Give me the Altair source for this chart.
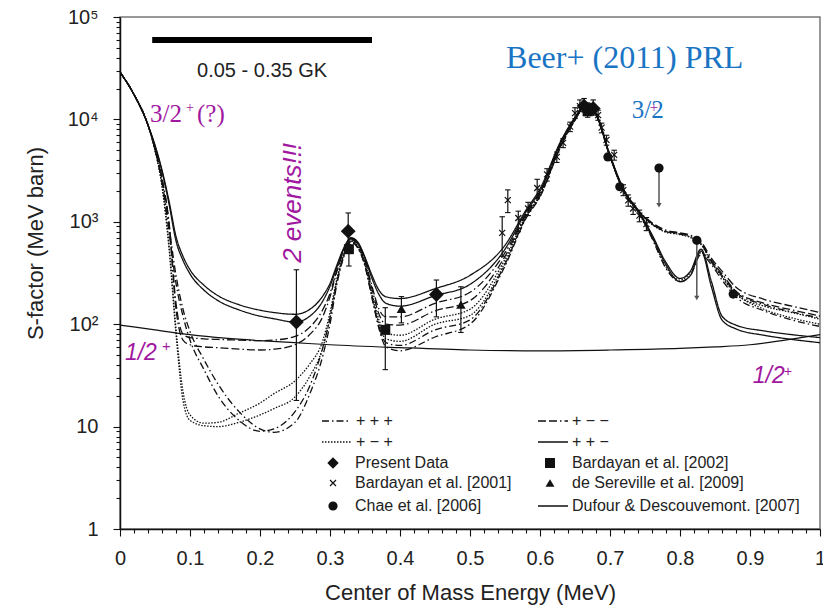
import altair as alt
import pandas as pd

# ---------------- data ----------------
E_GRID = [0, 0.02, 0.04, 0.05, 0.06, 0.07, 0.08, 0.09, 0.10, 0.12, 0.14, 0.17, 0.20, 0.22,
          0.25, 0.27, 0.29, 0.30, 0.31, 0.32, 0.33, 0.34, 0.35, 0.36, 0.37, 0.38, 0.40, 0.45,
          0.50, 0.55, 0.58, 0.60, 0.63, 0.65, 0.665, 0.68, 0.70, 0.72, 0.74, 0.76, 0.78, 0.80,
          0.815, 0.83, 0.845, 0.86, 0.88, 0.92, 0.96, 1.00]

# "+ + -" (solid)
FIT_PPM_1 = [29000, 17500, 8800, 5600, 3200, 1600, 720, 460, 340, 240, 190, 155, 137, 130,
             125, 138, 190, 250, 380, 560, 700, 630, 450, 300, 215, 185, 178, 222,
             300, 590, 1300, 2100, 6200, 10500, 14000, 11500, 4500, 2050, 1300, 750, 400, 280,
             330, 540, 260, 120, 98, 86, 79, 74]
FIT_PPM_2 = [29000, 17500, 8800, 5500, 3100, 1500, 650, 420, 310, 215, 170, 138, 120, 113,
             105, 118, 170, 235, 365, 550, 690, 620, 440, 280, 195, 160, 150, 190,
             245, 540, 1250, 2000, 6000, 10300, 13800, 11300, 4400, 2000, 1280, 720, 380, 260,
             300, 520, 230, 110, 90, 78, 71, 66]
# "+ - -" (dash-dash-dot)
FIT_PMM_1 = [29000, 17500, 8800, 5200, 2700, 1000, 160, 80, 74, 72, 71, 70, 69, 70,
             76, 92, 140, 200, 340, 530, 680, 600, 420, 235, 140, 118, 118, 160,
             205, 500, 1200, 1950, 5900, 10200, 13800, 11300, 4400, 2000, 1300, 980, 830, 780,
             740, 640, 440, 330, 230, 175, 150, 130]
FIT_PMM_2 = [29000, 17500, 8800, 5100, 2600, 950, 140, 70, 63, 60, 59, 57, 56, 57,
             63, 78, 120, 185, 330, 520, 670, 590, 410, 220, 125, 100, 98, 135,
             170, 460, 1170, 1900, 5800, 10000, 13700, 11200, 4400, 2000, 1300, 960, 810, 770,
             720, 620, 420, 310, 210, 160, 138, 120]
# "+ - +" (dotted)
FIT_PMP_1 = [29000, 17500, 8800, 5000, 2300, 600, 90, 22, 13, 10.8, 11, 13.5, 17, 21,
             28, 40, 70, 130, 280, 490, 650, 570, 390, 200, 110, 82, 78, 112,
             140, 430, 1150, 1850, 5700, 10000, 13600, 11200, 4300, 1950, 1250, 700, 360, 270,
             320, 500, 400, 290, 200, 140, 115, 100]
FIT_PMP_2 = [29000, 17500, 8800, 5000, 2200, 550, 80, 18, 11.5, 10.2, 10, 11, 13, 15,
             19.5, 30, 60, 115, 270, 480, 640, 560, 380, 190, 100, 72, 68, 100,
             122, 400, 1120, 1800, 5600, 9900, 13500, 11100, 4300, 1950, 1280, 940, 790, 750,
             700, 600, 400, 290, 195, 150, 130, 112]
# "+ + +" (dash-dot)
FIT_PPP_1 = [29000, 17500, 8800, 5100, 2400, 800, 250, 120, 70, 36, 20, 11.5, 9, 9.5,
             14, 24, 60, 115, 260, 470, 640, 560, 370, 180, 90, 60, 55, 75,
             100, 370, 1080, 1750, 5500, 9800, 13500, 11000, 4300, 1950, 1250, 690, 350, 260,
             300, 480, 380, 270, 185, 135, 110, 95]
FIT_PPP_2 = [29000, 17500, 8800, 5150, 2500, 900, 300, 140, 85, 45, 26, 14, 9.5, 8.8,
             11, 20, 50, 100, 250, 460, 630, 550, 370, 185, 95, 66, 62, 88,
             110, 385, 1100, 1780, 5600, 9900, 13600, 11100, 4350, 1980, 1290, 950, 800, 760,
             710, 610, 410, 300, 205, 155, 132, 115]

DUFOUR_E = [0, 0.05, 0.1, 0.15, 0.2, 0.25, 0.3, 0.4, 0.5, 0.6, 0.7, 0.8, 0.85, 0.9, 0.95, 1.0]
DUFOUR_S = [98, 88, 79, 73, 69, 66, 63, 59, 56, 55, 56, 58, 60, 63, 70, 79]

PRESENT_E = [0.252, 0.326, 0.452, 0.663, 0.676]
PRESENT_S = [105, 810, 195, 13500, 12800]
PRESENT_LO = [18, 600, 118, 11800, 11000]
PRESENT_HI = [340, 1220, 270, 16000, 15500]

B2002_E = [0.327, 0.379, 0.668]
B2002_S = [540, 88, 12000]
B2002_LO = [370, 36, 10500]
B2002_HI = [760, 145, 14500]

DESER_E = [0.402, 0.487]
DESER_S = [141, 155]
DESER_LO = [103, 83]
DESER_HI = [186, 232]

B2001_E = [0.546, 0.554, 0.569, 0.583, 0.596, 0.61, 0.624, 0.633, 0.643, 0.65, 0.657,
           0.683, 0.688, 0.695, 0.706, 0.719, 0.726, 0.733, 0.742, 0.752]
B2001_S = [780, 1630, 1090, 1350, 2140, 2900, 4300, 5900, 8500, 11500, 13500,
           11000, 8300, 6300, 4500, 2040, 1620, 1350, 1150, 950]
B2001_LO = [460, 1230, 800, 1150, 1700, 2500, 3800, 5300, 7600, 10200, 12000,
            9800, 7400, 5600, 4000, 1800, 1420, 1180, 1000, 820]
B2001_HI = [1120, 2050, 1270, 1550, 2600, 3300, 4800, 6500, 9400, 13000, 15500,
            12300, 9200, 7000, 5000, 2300, 1830, 1520, 1300, 1100]

CHAE_E = [0.672, 0.697, 0.714, 0.876]
CHAE_S = [13000, 4300, 2200, 197]
CHAE_UL_E = [0.770, 0.824]
CHAE_UL_S = [3350, 660]
CHAE_UL_TO = [1450, 180]

X_TICKS = [round(i * 0.02, 2) for i in range(51)]
Y_TICKS = [m * 10 ** k for k in range(5) for m in range(1, 10)] + [100000]

MAGENTA = "#a0189f"
BLUE = "#1a74c4"
INK = "#111111"
FONT = "Liberation Sans"
SERIF = "Liberation Serif"

# ---------------- scales / axes ----------------
XS = alt.Scale(domain=[0, 1], nice=False, zero=False)
YS = alt.Scale(type="log", domain=[1, 100000], nice=False)

XLAB = ("abs(datum.value*10-round(datum.value*10))<0.001 ? "
        "((datum.value==0||datum.value==1) ? format(datum.value,'d') : format(datum.value,'.1f')) : ''")
YLAB = ("datum.value==1 ? '1' : datum.value==10 ? '10' : datum.value==100 ? '10\u00b2' : "
        "datum.value==1000 ? '10\u00b3' : datum.value==10000 ? '10\u2074' : "
        "datum.value==100000 ? '10\u2075' : ''")

X_AXIS = alt.Axis(values=X_TICKS, labelExpr=XLAB, labelFlush=False, labelOverlap=False,
                  tickSize={"condition": {"test": "abs(datum.value*10-round(datum.value*10))<0.001",
                                          "value": 7}, "value": 4},
                  labelPadding=12, titlePadding=14, grid=False)
Y_AXIS = alt.Axis(values=Y_TICKS, labelExpr=YLAB, labelOverlap=False, labelFlush=False,
                  tickSize={"condition": {"test": "abs(log(datum.value)/LN10-round(log(datum.value)/LN10))<0.001",
                                          "value": 7}, "value": 4},
                  labelPadding=15, titlePadding=20, titleY=226, grid=False)
XT = "Center of Mass Energy (MeV)"
YT = "S-factor (MeV barn)"


def xe(field="E"):
    return alt.X(f"{field}:Q", scale=XS, axis=X_AXIS, title=XT)


def ye(field="S"):
    return alt.Y(f"{field}:Q", scale=YS, axis=Y_AXIS, title=YT)


def y2e(field):
    return alt.Y2(f"{field}:Q")


# ---------------- fits ----------------
fits = [("ppm1", FIT_PPM_1, "solid"), ("ppm2", FIT_PPM_2, "solid"),
        ("pmm1", FIT_PMM_1, "ddot"), ("pmm2", FIT_PMM_2, "ddot"),
        ("pmp1", FIT_PMP_1, "dot"), ("pmp2", FIT_PMP_2, "dot"),
        ("ppp1", FIT_PPP_1, "dashdot"), ("ppp2", FIT_PPP_2, "dashdot")]
rows = []
for name, vals, style in fits:
    for e, s in zip(E_GRID, vals):
        rows.append({"curve": name, "style": style, "E": e, "S": s})
fit_df = pd.DataFrame(rows)

DASHES = {"solid": [1, 0], "ddot": [8, 3, 8, 3, 1.5, 3], "dot": [1.5, 1.5], "dashdot": [7, 3, 1.5, 3]}

layers = []
for style, dash in DASHES.items():
    sub = fit_df[fit_df["style"] == style]
    layers.append(
        alt.Chart(sub).mark_line(color=INK, strokeWidth=1.3, strokeDash=dash, interpolate="monotone",
                                 clip=True)
        .encode(x=xe(), y=ye(), detail="curve:N")
    )

duf_df = pd.DataFrame({"E": DUFOUR_E, "S": DUFOUR_S})
layers.append(alt.Chart(duf_df).mark_line(color=INK, strokeWidth=1.2, interpolate="monotone")
              .encode(x=xe(), y=ye()))

# ---------------- data sets ----------------
def err_df(E, S, LO, HI):
    return pd.DataFrame({"E": E, "S": S, "lo": LO, "hi": HI})


CAP = "M-1,0L1,0"
XMARK = "M-1,-1L1,1M-1,1L1,-1"
for d in [err_df(PRESENT_E, PRESENT_S, PRESENT_LO, PRESENT_HI),
          err_df(B2002_E, B2002_S, B2002_LO, B2002_HI),
          err_df(DESER_E, DESER_S, DESER_LO, DESER_HI),
          err_df(B2001_E, B2001_S, B2001_LO, B2001_HI)]:
    layers.append(alt.Chart(d).mark_rule(color=INK, strokeWidth=1.2).encode(x=xe(), y=ye("lo"), y2=y2e("hi")))
    for f in ["lo", "hi"]:
        layers.append(alt.Chart(d).mark_point(shape=CAP, size=30, filled=False, color=INK, strokeWidth=1.1,
                                              opacity=1).encode(x=xe(), y=ye(f)))

ul_df = pd.DataFrame({"E": CHAE_UL_E, "S": CHAE_UL_S, "to": CHAE_UL_TO})
layers.append(alt.Chart(ul_df).mark_rule(color="#555", strokeWidth=1.5).encode(x=xe(), y=ye(), y2=y2e("to")))
layers.append(alt.Chart(ul_df).mark_point(shape="triangle-down", size=28, filled=True, color="#555",
                                          opacity=1).encode(x=xe(), y=ye("to")))


def markers(E, S, shape, size, filled=True, sw=1):
    d = pd.DataFrame({"E": E, "S": S})
    return alt.Chart(d).mark_point(shape=shape, size=size, filled=filled, color=INK, opacity=1,
                                   strokeWidth=sw).encode(x=xe(), y=ye())


layers.append(markers(B2001_E, B2001_S, XMARK, 36, filled=False, sw=1.2))
layers.append(markers(DESER_E, DESER_S, "triangle-up", 90))
layers.append(markers(B2002_E, B2002_S, "square", 100))
layers.append(markers(CHAE_E + CHAE_UL_E, CHAE_S + CHAE_UL_S, "circle", 85))
layers.append(markers(PRESENT_E, PRESENT_S, "diamond", 220))

# ---------------- annotations ----------------
bar_df = pd.DataFrame({"E": [0.046], "E2": [0.36], "S": [59600]})
layers.append(alt.Chart(bar_df).mark_rule(color="#000", strokeWidth=6)
              .encode(x=xe(), x2=alt.X2("E2:Q"), y=ye()))


def label(E, S, text, size, color=INK, font=FONT, align="center", baseline="alphabetic",
          style="normal", angle=0):
    d = pd.DataFrame({"E": [E], "S": [S], "t": [text]})
    kw = dict(fontSize=size, color=color, font=font, align=align, baseline=baseline, fontStyle=style)
    if angle:
        kw["angle"] = angle
    return alt.Chart(d).mark_text(**kw).encode(x=xe(), y=ye(), text="t:N")


layers += [
    label(0.203, 29700, "0.05 - 0.35 GK", 20, color="#222", baseline="middle"),
    label(0.721, 31800, "Beer+ (2011) PRL", 32, color=BLUE, font=SERIF),
    label(0.754, 10300, "3/2", 25, color=BLUE, font=SERIF),
    label(0.763, 13200, "+", 15, color=MAGENTA, font=SERIF, baseline="middle"),
    label(0.043, 9440, "3/2", 25, color=MAGENTA, font=SERIF, align="left"),
    label(0.100, 12900, "+", 14, color=MAGENTA, font=SERIF, baseline="middle"),
    label(0.110, 9440, "(?)", 25, color=MAGENTA, font=SERIF, align="left"),
    label(0.247, 1530, "2 events!!!", 26, color=MAGENTA, baseline="middle", style="italic", angle=270),
    label(0.007, 44.7, "1/2", 23, color=MAGENTA, align="left", style="italic"),
    label(0.066, 61, "+", 15, color=MAGENTA, baseline="middle", style="italic"),
    label(0.904, 26.7, "1/2", 23, color=MAGENTA, align="left", style="italic"),
    label(0.954, 34, "+", 14, color=MAGENTA, baseline="middle", style="italic"),
]

# ---------------- legend (pixel positions inside the plot) ----------------
LEG_ROWS = [404, 425, 446, 466, 489]


def px_x(f):
    return alt.X(f"{f}:Q", scale=None, axis=None)


def px_y(f):
    return alt.Y(f"{f}:Q", scale=None, axis=None)


leg_lines = [(202, 230, LEG_ROWS[0], "dashdot"), (202, 232, LEG_ROWS[1], "dot"),
             (418, 448, LEG_ROWS[0], "ddot"), (418, 448, LEG_ROWS[1], "solid"),
             (418, 448, LEG_ROWS[4], "solid")]
for x1, x2, yy, st in leg_lines:
    d = pd.DataFrame({"a": [x1], "b": [x2], "y": [yy]})
    layers.append(alt.Chart(d).mark_rule(color=INK, strokeWidth=1.3, strokeDash=DASHES[st])
                  .encode(x=px_x("a"), x2=alt.X2("b:Q"), y=px_y("y")))

leg_texts = [(236, LEG_ROWS[0], "+ + +"), (236, LEG_ROWS[1], "+ \u2212 +"),
             (452, LEG_ROWS[0], "+ \u2212 \u2212"), (452, LEG_ROWS[1], "+ + \u2212"),
             (235, LEG_ROWS[2], "Present Data"), (235, LEG_ROWS[3], "Bardayan et al. [2001]"),
             (235, LEG_ROWS[4], "Chae et al. [2006]"), (452, LEG_ROWS[2], "Bardayan et al. [2002]"),
             (452, LEG_ROWS[3], "de Sereville et al. [2009]"),
             (452, LEG_ROWS[4], "Dufour & Descouvemont. [2007]")]
lt_df = pd.DataFrame({"x": [t[0] for t in leg_texts], "y": [t[1] for t in leg_texts],
                      "t": [t[2] for t in leg_texts]})
layers.append(alt.Chart(lt_df).mark_text(align="left", baseline="middle", fontSize=16, font=FONT,
                                         color="#222").encode(x=px_x("x"), y=px_y("y"), text="t:N"))

leg_marks = [(213, LEG_ROWS[2], "diamond", 130, True), (213, LEG_ROWS[3], XMARK, 36, False),
             (213, LEG_ROWS[4], "circle", 85, True), (430, LEG_ROWS[2], "square", 100, True),
             (430, LEG_ROWS[3], "triangle-up", 80, True)]
for x, y, shp, sz, fl in leg_marks:
    d = pd.DataFrame({"x": [x], "y": [y]})
    layers.append(alt.Chart(d).mark_point(shape=shp, size=sz, filled=fl, color=INK, opacity=1,
                                          strokeWidth=1.2).encode(x=px_x("x"), y=px_y("y")))

chart = (
    alt.layer(*layers)
    .properties(width=700, height=512, autosize=alt.AutoSizeParams(type="none"),
                padding={"left": 120, "top": 17, "right": 3, "bottom": 77})
    .configure_view(stroke="#777", strokeWidth=1.5)
    .configure_axis(domainColor=INK, domainWidth=1.5, tickColor=INK, tickWidth=1.1,
                    labelFont=FONT, labelFontSize=20, labelColor="#222",
                    titleFont=FONT, titleFontSize=22, titleFontWeight="normal", titleColor="#222")
)

chart.save("out.html", embed_options={"renderer": "svg", "actions": False})
